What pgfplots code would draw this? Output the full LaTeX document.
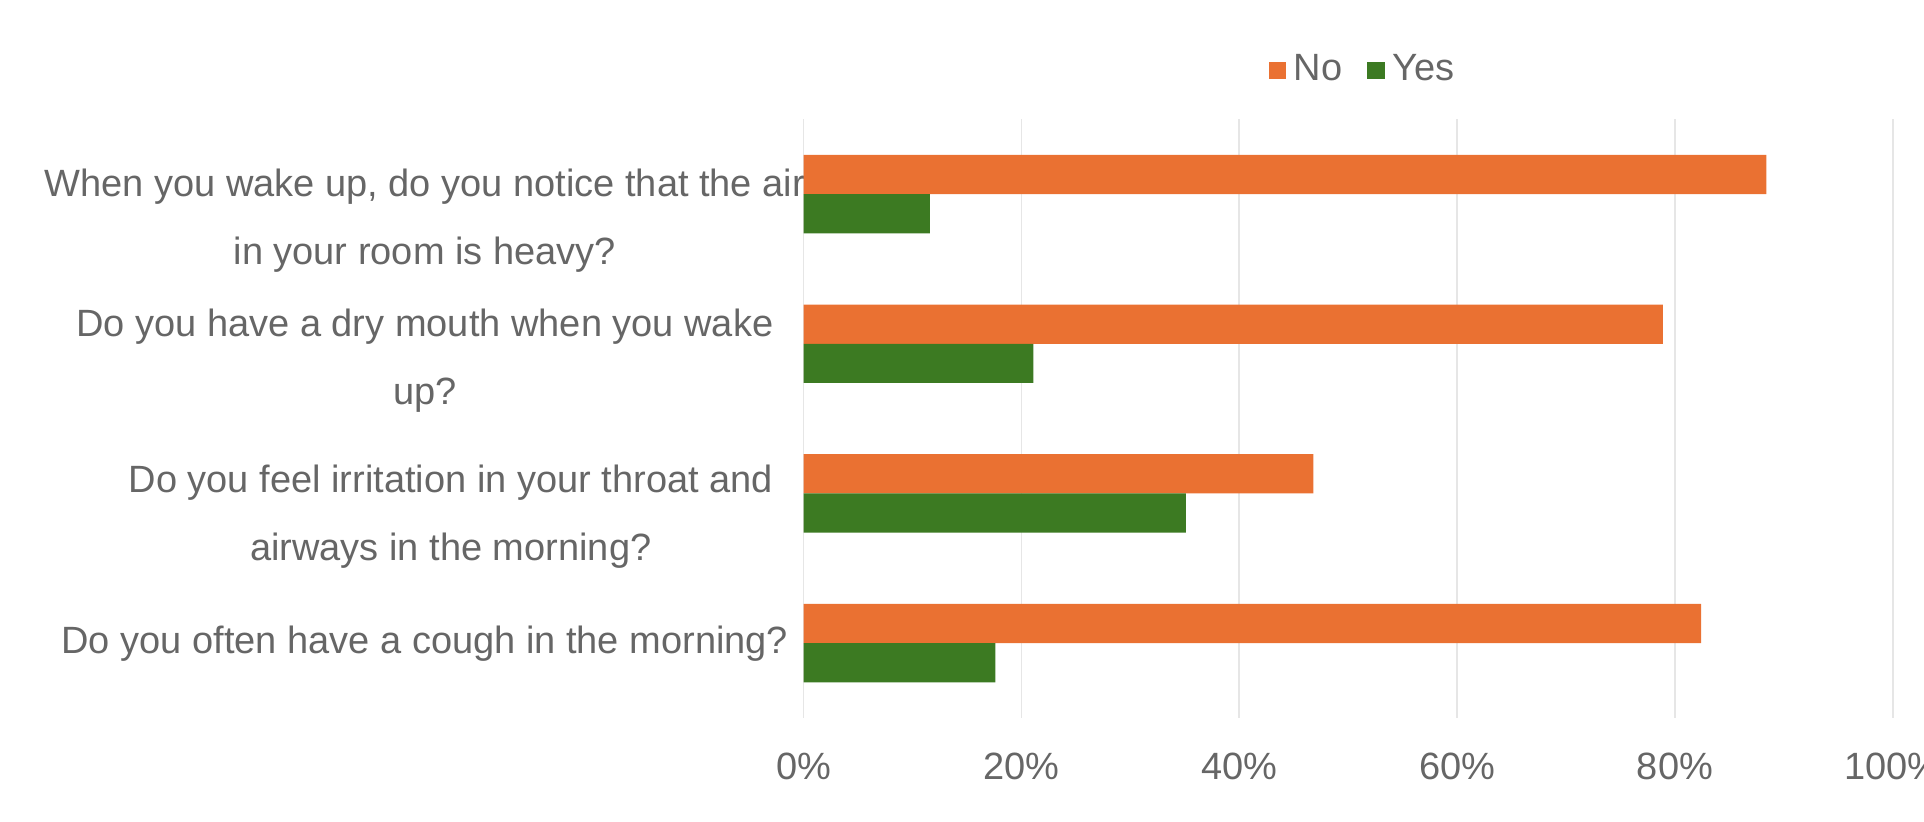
\documentclass[border=0pt]{standalone}
\usepackage{pgfplots}
\pgfplotsset{compat=1.18}
\usepackage{fontspec}
\setmainfont{Liberation Sans}
\definecolor{cNo}{HTML}{EA7132}
\definecolor{cYes}{HTML}{3C7A22}
\definecolor{txt}{HTML}{666666}
\definecolor{grd}{HTML}{E6E6E6}
\renewcommand{\arraystretch}{1.5}
\newcommand{\labA}{\raisebox{-0.5pt}{\begin{tabular}[t]{@{}c@{}}\makebox[189pt]{When you wake up, do you notice that the air}\\in your room is heavy?\end{tabular}}}
\newcommand{\labB}{\raisebox{1.8pt}{\begin{tabular}[t]{@{}c@{}}\makebox[189pt]{Do you have a dry mouth when you wake}\\up?\end{tabular}}}
\newcommand{\labC}{\raisebox{0.3pt}{\begin{tabular}[t]{@{}c@{}}\makebox[176pt]{Do you feel irritation in your throat and}\\airways in the morning?\end{tabular}}}
\newcommand{\labD}{\raisebox{-2.5pt}{\begin{tabular}[t]{@{}c@{}}\makebox[189pt]{Do you often have a cough in the morning?}\end{tabular}}}
\begin{document}
\fontsize{9.5}{11.4}\selectfont
\begin{tikzpicture}
\begin{axis}[
  at={(0,0)}, anchor=south west,
  scale only axis, width=272.3pt, height=149.7pt,
  xbar, bar width=9.8pt,
  xmin=0, xmax=100, ymin=-0.5, ymax=3.5,
  xtick={0,20,40,60,80,100},
  xticklabels={0\%,20\%,40\%,60\%,80\%,100\%},
  ytick={0,1,2,3},
  yticklabels={\labD,\labC,\labB,\labA},
  xticklabel style={anchor=base, yshift=-15.5pt, text=txt},
  yticklabel style={anchor=base east, inner sep=0pt, text=txt},
  major tick length=0pt,
  axis line style={draw=none},
  xmajorgrids, major grid style={grd, line width=0.4pt},
  legend style={at={(0.516,1.082)}, anchor=center, draw=none, fill=none,
    legend columns=2, text=txt, font=\fontsize{9.5}{11.4}\selectfont,
    /tikz/every even column/.append style={column sep=4.2pt},
    cells={anchor=west}},
]
\addplot[fill=cNo, draw=none, bar shift=4.9pt,
  legend image code/.code={\fill[cNo] (0pt,-2.15pt) rectangle (4.3pt,2.15pt);}]
  coordinates {(82.4,0) (46.8,1) (78.9,2) (88.4,3)};
\addlegendentry{No}
\addplot[fill=cYes, draw=none, bar shift=-4.9pt,
  legend image code/.code={\fill[cYes] (0pt,-2.15pt) rectangle (4.3pt,2.15pt);}]
  coordinates {(17.6,0) (35.1,1) (21.1,2) (11.6,3)};
\addlegendentry{Yes}
\end{axis}
\pgfresetboundingbox
\path[use as bounding box] (-200.9pt,-26pt) rectangle (280.1pt,179.5pt);
\end{tikzpicture}
\end{document}
